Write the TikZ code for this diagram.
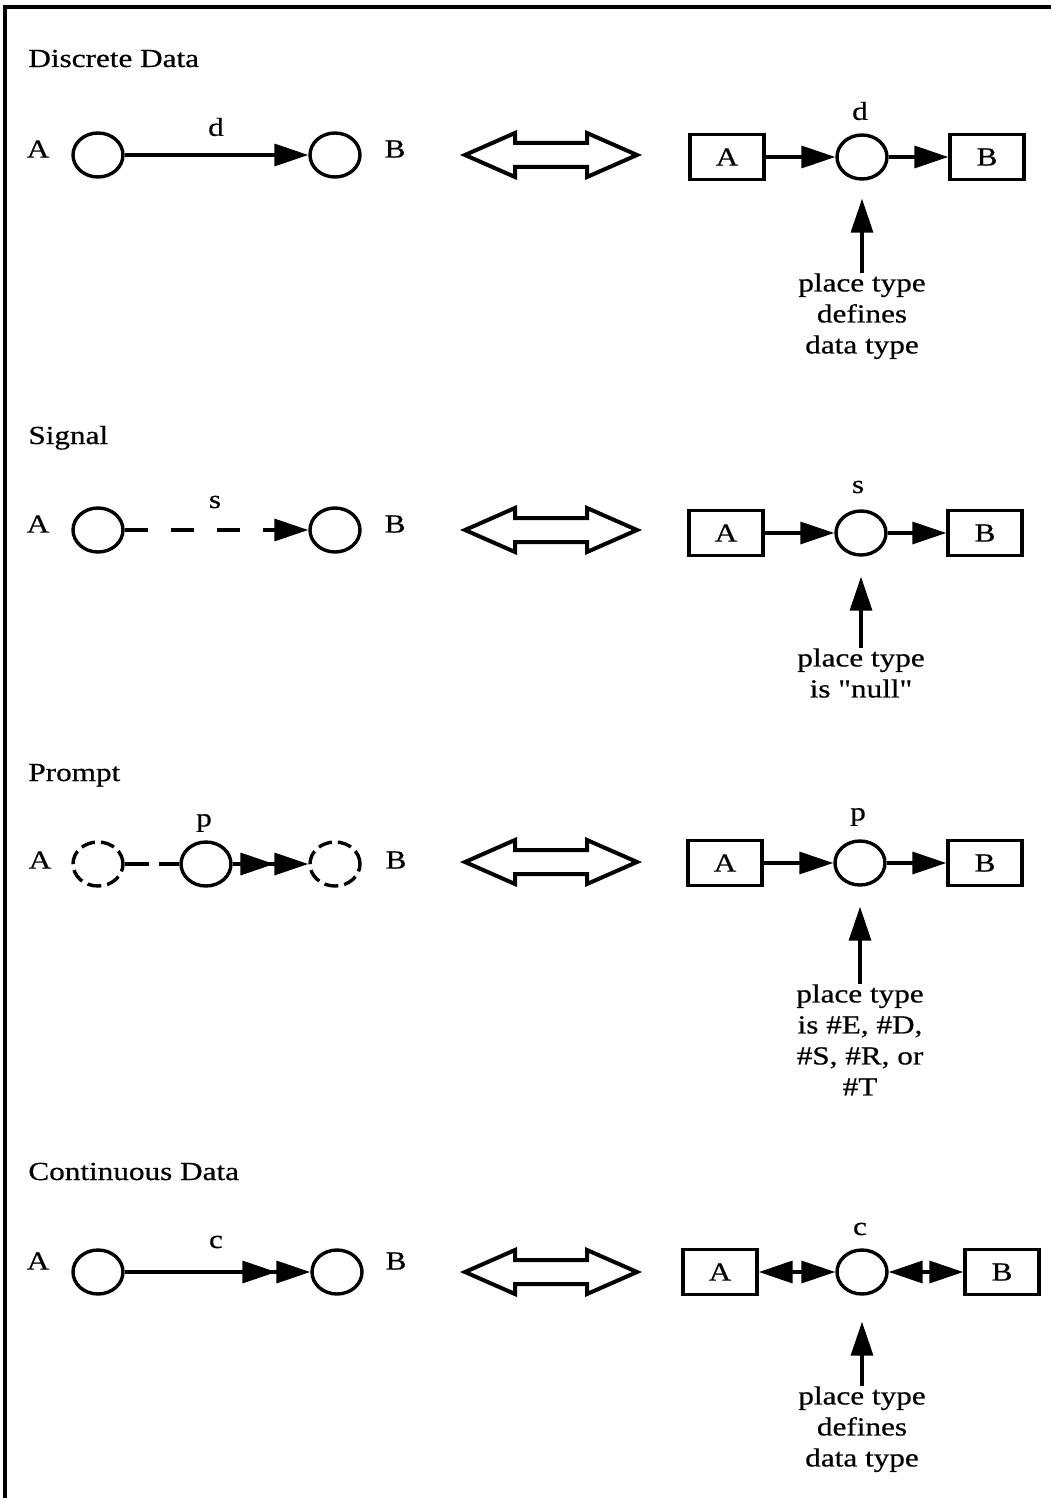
\documentclass[tikz,border=0pt]{standalone}
\usepackage{fontspec}
\setmainfont{Liberation Serif}[FakeStretch=1.2, FakeBold=0.6, Ligatures=TeXOff]
\usetikzlibrary{arrows.meta,shapes.geometric}

\tikzset{
  ftri/.tip={Triangle[length=17pt,width=11pt,sep=0pt]},
  lw/.style={line width=1.7pt},
  place/.style={ellipse, draw, lw, inner sep=0pt, minimum width=25pt, minimum height=22pt},
  ghost/.style={place, dash pattern=on 7pt off 3pt},
  trans/.style={draw, lw, inner sep=0pt, minimum width=37pt, minimum height=22.5pt},
  lbl/.style={inner sep=0pt},
  title/.style={inner sep=0pt, anchor=base west},
  note/.style={inner sep=0pt, anchor=north, align=center},
  arr/.style={lw, -{ftri[]}},
  twoarr/.style={lw, -{ftri[]ftri[]}},
  bothways/.style={lw, {ftri[]}-{ftri[]}},
  equiv/.pic={
    \draw[line width=2pt, line join=miter] (-86,0) -- (-36,-22) -- (-36,-12) -- (36,-12) -- (36,-22)
      -- (86,0) -- (36,22) -- (36,12) -- (-36,12) -- (-36,22) -- cycle;
  }
}

\begin{document}
\begin{tikzpicture}[x=0.5pt,y=-0.5pt,
  every node/.append style={font=\fontsize{13}{15.5}\selectfont}]
\path[use as bounding box] (0,0) rectangle (1051,1498);

% frame
\draw[line width=1.6pt] (1051,7) -- (5,7) -- (5,1498);

% ---------------- Discrete Data ----------------
\node[title] (h1) at (28,67) {Discrete Data};
\node[lbl] (la1) at (38,149) {A};
\node[place] (a1) at (98,155) {};
\node[place] (b1) at (335,155) {};
\node[lbl] (lb1) at (395,149) {B};
\node[lbl] (ld1) at (216,127) {d};
\draw[arr] (a1) -- (b1);
\pic (e1) at (551,155) {equiv};
\node[trans] (ta1) at (727,157) {A};
\node[place] (p1) at (862,157) {};
\node[trans] (tb1) at (987,157) {B};
\node[lbl] (pd1) at (860,111) {d};
\draw[arr] (ta1) -- (p1);
\draw[arr] (p1) -- (tb1);
\node[note] (n1) at (862,273) {place type\\defines\\data type};
\draw[arr, shorten >=9pt] (n1) -- (p1);

% ---------------- Signal ----------------
\node[title] (h2) at (28,444) {Signal};
\node[lbl] (la2) at (38,524) {A};
\node[place] (a2) at (98,530) {};
\node[place] (b2) at (335,530) {};
\node[lbl] (lb2) at (395,524) {B};
\node[lbl] (ls2) at (215,502) {s};
\draw[arr, dash pattern=on 11.5pt off 11.5pt] (a2) -- (b2);
\pic (e2) at (551,530) {equiv};
\node[trans] (ta2) at (726,533) {A};
\node[place] (p2) at (861,533) {};
\node[trans] (tb2) at (985,533) {B};
\node[lbl] (ps2) at (858,487) {s};
\draw[arr] (ta2) -- (p2);
\draw[arr] (p2) -- (tb2);
\node[note] (n2) at (861,648) {place type\\is "null"};
\draw[arr, shorten >=10pt] (n2) -- (p2);

% ---------------- Prompt ----------------
\node[title] (h3) at (28,781) {Prompt};
\node[lbl] (la3) at (40,860) {A};
\node[ghost] (a3) at (98,864) {};
\node[place] (q3) at (206,864) {};
\node[ghost] (b3) at (335,864) {};
\node[lbl] (lb3) at (396,860) {B};
\node[lbl] (lp3) at (204,823) {p};
\draw[lw, dash pattern=on 12pt off 5pt] (a3) -- (q3);
\draw[twoarr] (q3) -- (b3);
\pic (e3) at (551,862) {equiv};
\node[trans] (ta3) at (725,863) {A};
\node[place] (p3) at (860,863) {};
\node[trans] (tb3) at (985,863) {B};
\node[lbl] (pp3) at (858,817) {p};
\draw[arr] (ta3) -- (p3);
\draw[arr] (p3) -- (tb3);
\node[note] (n3) at (860,984) {place type\\is \#E, \#D,\\\#S, \#R, or\\\#T};
\draw[arr, shorten >=10pt] (n3) -- (p3);

% ---------------- Continuous Data ----------------
\node[title] (h4) at (28,1180) {Continuous Data};
\node[lbl] (la4) at (38,1261) {A};
\node[place] (a4) at (98,1272) {};
\node[place] (b4) at (337,1272) {};
\node[lbl] (lb4) at (396,1261) {B};
\node[lbl] (lc4) at (216,1242) {c};
\draw[twoarr] (a4) -- (b4);
\pic (e4) at (551,1272) {equiv};
\node[trans] (ta4) at (720,1272) {A};
\node[place] (p4) at (862,1272) {};
\node[trans] (tb4) at (1002,1272) {B};
\node[lbl] (pc4) at (860,1229) {c};
\draw[bothways] (ta4) -- (p4);
\draw[bothways] (p4) -- (tb4);
\node[note] (n4) at (862,1386) {place type\\defines\\data type};
\draw[arr, shorten >=13pt] (n4) -- (p4);
\end{tikzpicture}
\end{document}
